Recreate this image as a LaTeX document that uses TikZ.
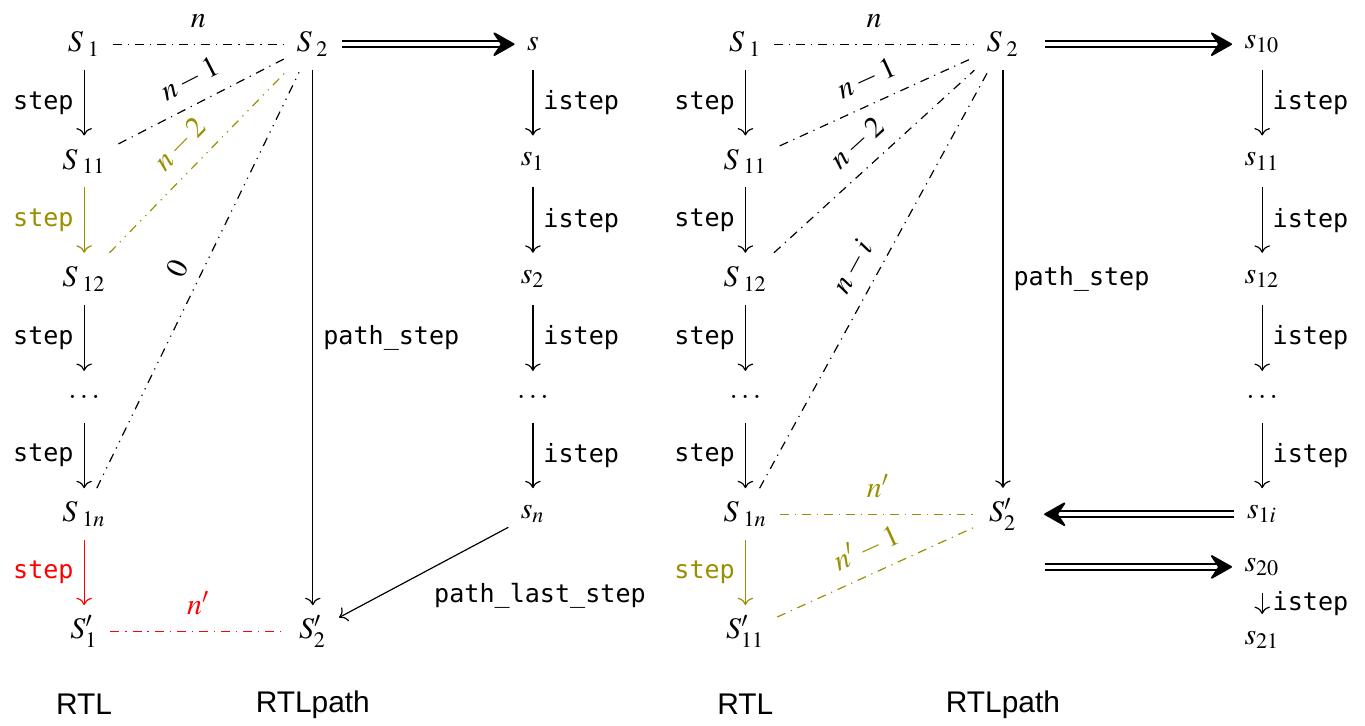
\documentclass[tikz,border=0pt]{standalone}
\usepackage{mathptmx}
\usepackage[no-math]{fontspec}
\setmonofont{DejaVu Sans Mono}[Scale=0.84]
\newfontfamily\rtlfont{Liberation Sans}
\usetikzlibrary{arrows.meta}
\definecolor{darkolive}{RGB}{153,143,0}
\tikzset{
  st/.style={inner xsep=4pt, minimum height=17pt},
  lbl/.style={font=\ttfamily},
  sim/.style={dash dot},
  simm/.style={dash dot dot},
  dbl/.style={double, double distance=1.4pt, line width=0.6pt,
    -{Stealth[length=8pt,width=9pt,inset=3pt,round]}},
}
\newcommand{\Sn}[1]{S_{\;#1}}

\begin{document}
\begin{tikzpicture}
  \useasboundingbox (0,0) rectangle (16.06,8.54);
  % RTL / RTLpath, left
  \node[st] (a1)  at (0.99,8.02) {$\Sn{1}$};
  \node[st] (a11) at (0.99,6.64) {$\Sn{11}$};
  \node[st] (a12) at (0.99,5.26) {$\Sn{12}$};
  \node[st] (ad)  at (0.99,3.87) {$\dots$};
  \node[st] (a1n) at (0.99,2.49) {$\Sn{1n}$};
  \node[st] (a1p) at (0.99,1.11) {$S'_{1}$};
  \node[st] (b2)  at (3.68,8.02) {$\Sn{2}$};
  \node[st] (b2p) at (3.68,1.11) {$S'_{2}$};
  \node[st] (c0)  at (6.27,8.02) {$s$};
  \node[st] (c1)  at (6.27,6.64) {$s_{1}$};
  \node[st] (c2)  at (6.27,5.26) {$s_{2}$};
  \node[st] (cd)  at (6.27,3.87) {$\dots$};
  \node[st] (cn)  at (6.27,2.49) {$s_{n}$};
  \node[font=\rtlfont] (artl) at (0.99,0.25) {RTL};
  \node[font=\rtlfont] (brtl) at (3.68,0.25) {RTLpath};

  \draw[->] (a1) -- node[left,lbl]{step} (a11);
  \draw[->,darkolive] (a11) -- node[left,lbl]{step} (a12);
  \draw[->] (a12) -- node[left,lbl]{step} (ad);
  \draw[->] (ad) -- node[left,lbl]{step} (a1n);
  \draw[->,red] (a1n) -- node[left,lbl]{step} (a1p);
  \draw[sim] (a1) -- node[above=2pt]{$n$} (b2);
  \draw[sim] (a11) -- node[above=1pt,sloped]{$n-1$} (b2);
  \draw[simm,darkolive] (a12) -- node[above=1pt,sloped]{$n-2$} (b2);
  \draw[simm] (a1n) -- node[above=1pt,sloped]{$0$} (b2);
  \draw[sim,red] (a1p) -- node[above=2pt]{$n'$} (b2p);
  \draw[->] (b2) -- node[right,lbl]{path\_step} (b2p);
  \draw[dbl] (b2) -- (c0);
  \foreach \u/\v in {c0/c1,c1/c2,c2/cd,cd/cn}
    \draw[->] (\u) -- node[right,lbl]{istep} (\v);
  \draw[->] (cn) -- node[below right,lbl]{path\_last\_step} (b2p);

  % RTL / RTLpath, right
  \node[st] (d1)  at (8.77,8.02) {$\Sn{1}$};
  \node[st] (d11) at (8.77,6.64) {$\Sn{11}$};
  \node[st] (d12) at (8.77,5.26) {$\Sn{12}$};
  \node[st] (dd)  at (8.77,3.87) {$\dots$};
  \node[st] (d1n) at (8.77,2.49) {$\Sn{1n}$};
  \node[st] (d1p) at (8.77,1.11) {$S'_{11}$};
  \node[st] (e2)  at (11.80,8.02) {$\Sn{2}$};
  \node[st] (e2p) at (11.80,2.49) {$S'_{2}$};
  \node[st] (f0)  at (14.85,8.02) {$s_{10}$};
  \node[st] (f1)  at (14.85,6.64) {$s_{11}$};
  \node[st] (f2)  at (14.85,5.26) {$s_{12}$};
  \node[st] (fd)  at (14.85,3.87) {$\dots$};
  \node[st] (fi)  at (14.85,2.49) {$s_{1i}$};
  \node[st] (f20) at (14.85,1.87) {$s_{20}$};
  \node[st] (f21) at (14.85,1.01) {$s_{21}$};
  \coordinate (f) at (12.29,1.87);
  \node[font=\rtlfont] (drtl) at (8.77,0.25) {RTL};
  \node[font=\rtlfont] (ertl) at (11.80,0.25) {RTLpath};

  \draw[->] (d1) -- node[left,lbl]{step} (d11);
  \draw[->] (d11) -- node[left,lbl]{step} (d12);
  \draw[->] (d12) -- node[left,lbl]{step} (dd);
  \draw[->] (dd) -- node[left,lbl]{step} (d1n);
  \draw[->,darkolive] (d1n) -- node[left,lbl]{step} (d1p);
  \draw[sim] (d1) -- node[above=2pt]{$n$} (e2);
  \draw[sim] (d11) -- node[above=1pt,sloped]{$n-1$} (e2);
  \draw[sim] (d12) -- node[above=1pt,sloped]{$n-2$} (e2);
  \draw[sim] (d1n) -- node[above=1pt,sloped]{$n-i$} (e2);
  \draw[sim,darkolive] (d1n) -- node[above=2pt]{$n'$} (e2p);
  \draw[sim,darkolive] (d1p) -- node[above=1pt,sloped]{$n'-1$} (e2p);
  \draw[->] (e2) -- node[right,lbl]{path\_step} (e2p);
  \draw[dbl,shorten <=4.5pt] (e2) -- (f0);
  \foreach \u/\v in {f0/f1,f1/f2,f2/fd,fd/fi}
    \draw[->] (\u) -- node[right,lbl]{istep} (\v);
  \draw[dbl,shorten >=5pt] (fi) -- (e2p);
  \draw[dbl] (f) -- (f20);
  \draw[->] (f20) -- node[right,lbl]{istep} (f21);
\end{tikzpicture}
\end{document}
